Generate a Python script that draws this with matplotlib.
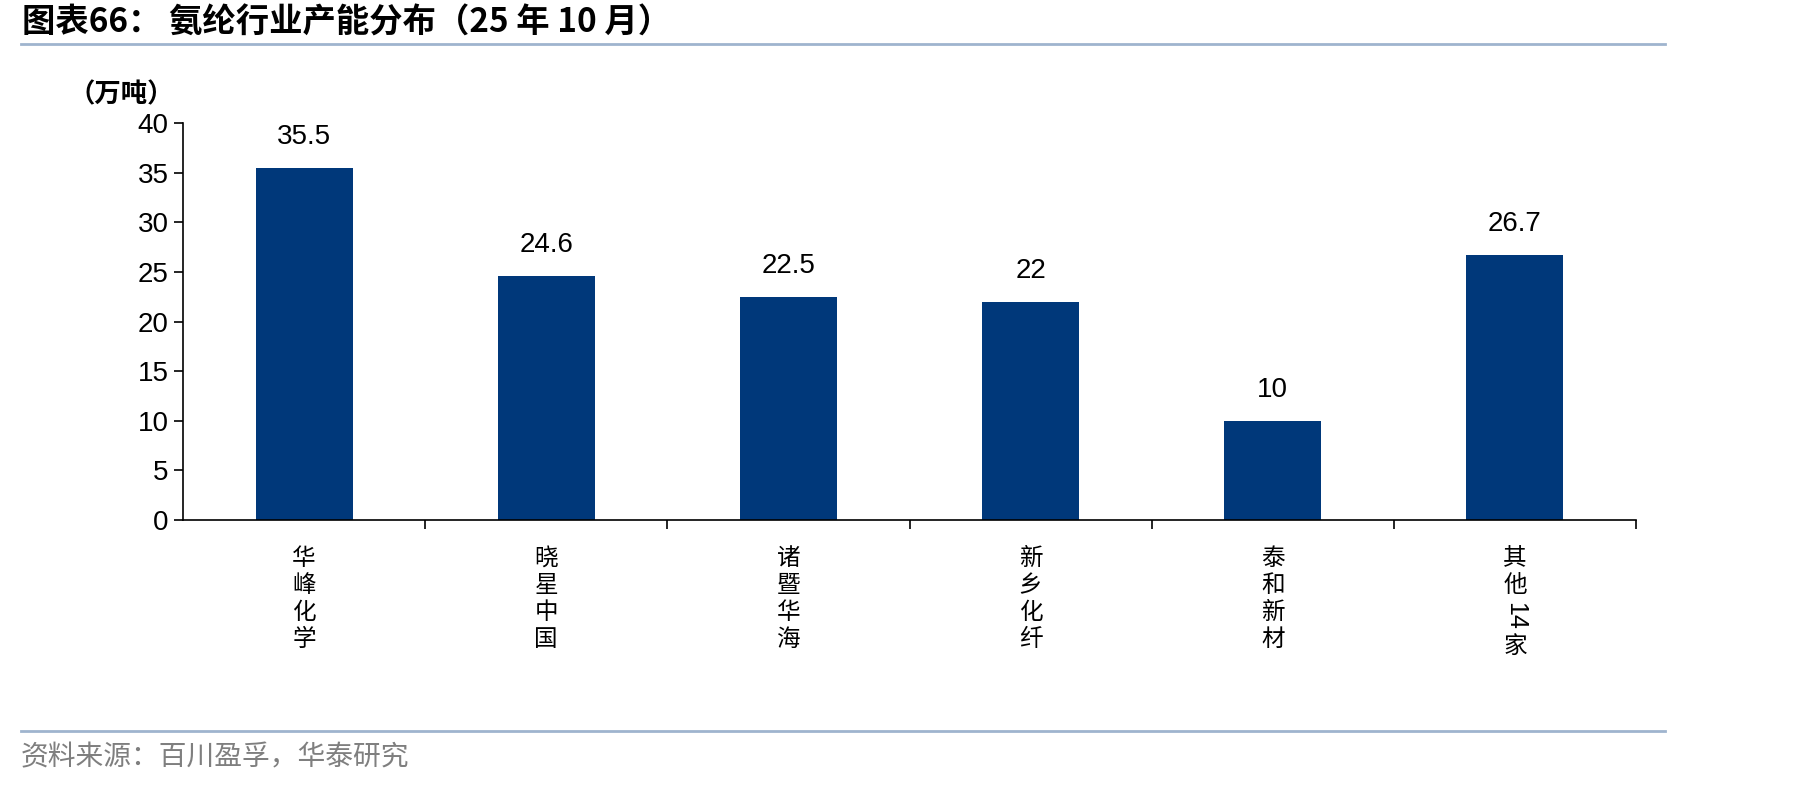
import re
import matplotlib
matplotlib.use('Agg')
import matplotlib.pyplot as plt
from matplotlib.lines import Line2D

companies = ['华峰化学', '晓星中国', '诸暨华海', '新乡化纤', '泰和新材', '其他14家']
capacity = [35.5, 24.6, 22.5, 22, 10, 26.7]
value_labels = ['35.5', '24.6', '22.5', '22', '10', '26.7']
y_ticks = [0, 5, 10, 15, 20, 25, 30, 35, 40]

title = '图表66： 氨纶行业产能分布（25 年 10 月）'
unit = '（万吨）'
source = '资料来源：百川盈孚，华泰研究'

BAR = '#00387A'
RULE = '#9FB4CE'
CJK = ['Noto Sans CJK SC', 'DejaVu Sans']
NUM = ['Liberation Sans', 'Noto Sans CJK SC']

plt.rcParams['font.family'] = NUM

fig = plt.figure(figsize=(18.19, 7.86), dpi=100)
ax = fig.add_axes([0.1006, 0.3384, 0.7988, 0.5051])

xs = list(range(len(companies)))
ax.bar(xs, capacity, width=0.4, color=BAR)
ax.set_xlim(-0.5, len(companies) - 0.5)
ax.set_ylim(0, 40)
ax.set_yticks(y_ticks)
ax.tick_params(axis='y', labelsize=20, length=6.5, width=1.2, pad=4)

ax.set_xticks(xs)
ax.set_xticklabels([])
ax.tick_params(axis='x', which='major', length=0)
ax.set_xticks([i + 0.5 for i in xs], minor=True)
ax.tick_params(axis='x', which='minor', length=6.5, width=1.2, direction='out')

for s in ['top', 'right']:
    ax.spines[s].set_visible(False)
for s in ['left', 'bottom']:
    ax.spines[s].set_linewidth(1.2)

for i, (v, lbl) in enumerate(zip(capacity, value_labels)):
    ax.annotate(lbl, (i, v), xytext=(0, 22), textcoords='offset points',
                ha='center', va='center', fontsize=20)

# vertical category labels, one character per line, latin runs turned sideways
step = 19.5
for i, name in enumerate(companies):
    top = 18
    for seg in re.findall(r'[0-9A-Za-z]+|.', name):
        if seg.isascii():
            h = len(seg) * 0.56 * 18 + 4
            ax.annotate(seg, (i, 0), xytext=(0, -(top + h / 2)), textcoords='offset points',
                        ha='center', va='center', rotation=-90, fontsize=18,
                        family=NUM, annotation_clip=False)
        else:
            h = step
            ax.annotate(seg, (i, 0), xytext=(0, -(top + h / 2)), textcoords='offset points',
                        ha='center', va='center', fontsize=17,
                        family=CJK, annotation_clip=False)
        top += h

fig.text(68 / 1819, 1 - 95 / 786, unit, fontsize=19, fontweight='bold',
         family=CJK, ha='left', va='center')

fig.text(22 / 1819, 1 - 23 / 786, title, fontsize=24, fontweight='bold',
         family=CJK, ha='left', va='center')
fig.add_artist(Line2D([21 / 1819, 1665 / 1819], [1 - 44 / 786] * 2,
                      color=RULE, lw=2, transform=fig.transFigure))

fig.add_artist(Line2D([21 / 1819, 1665 / 1819], [1 - 731 / 786] * 2,
                      color=RULE, lw=2, transform=fig.transFigure))
fig.text(21 / 1819, 1 - 757 / 786, source, fontsize=20, color='#7F7F7F',
         family=CJK, ha='left', va='center')

fig.savefig('out.png', dpi=100)
